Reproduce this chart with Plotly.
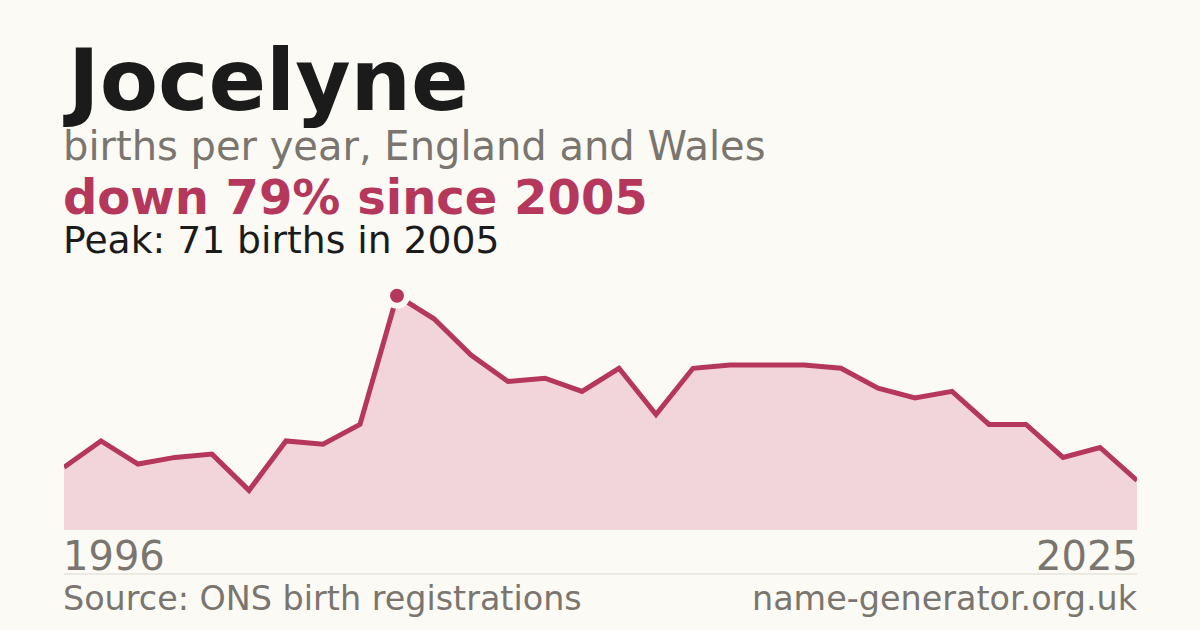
import plotly.graph_objects as go

# births per year for "Jocelyne"
years = list(range(1996, 2026))
births = [19, 27, 20, 22, 23, 12, 27, 26, 32, 71,
          64, 53, 45, 46, 42, 49, 35, 49, 50, 50,
          50, 49, 43, 40, 42, 32, 32, 22, 25, 15]

name = "Jocelyne"
subtitle = "births per year, England and Wales"
peak_year = years[births.index(max(births))]
peak_val = max(births)
change = round((births[-1] - peak_val) / peak_val * 100)
headline = f"down {abs(change)}% since {peak_year}"
peak_text = f"Peak: {peak_val} births in {peak_year}"

BG = "#fbfaf5"
RED = "#b5375b"
FILL = "#f2d5db"
GREY = "#7a756e"
INK = "#1b1b1b"
FONT = "DejaVu Sans"

W, H = 1200, 630
M_T, M_B, M_L, M_R = 266, 100, 64, 63
PLOT_H = H - M_T - M_B


def py(pix):
    # pixel row -> paper y
    return (H - M_B - pix) / PLOT_H


fig = go.Figure()
fig.add_trace(go.Scatter(
    x=years, y=births, mode="lines",
    line=dict(color=RED, width=5),
    fill="tozeroy", fillcolor=FILL,
    hoverinfo="skip",
))
fig.add_trace(go.Scatter(
    x=[peak_year], y=[peak_val], mode="markers",
    marker=dict(size=20, color=RED, line=dict(color=BG, width=6)),
    cliponaxis=False, hoverinfo="skip",
))


def label(text, x, y, size, color, bold=False, xanchor="left"):
    fig.add_annotation(
        text=f"<b>{text}</b>" if bold else text,
        x=x, y=py(y), xref="paper", yref="paper",
        xanchor=xanchor, yanchor="middle", showarrow=False,
        xshift=-3 if xanchor == "left" else 3,
        font=dict(family=FONT, size=size, color=color),
    )


label(name, 0, 80, 85, INK, bold=True)
label(subtitle, 0, 146, 40, GREY)
label(headline, 0, 197, 48, RED, bold=True)
label(peak_text, 0, 240, 37.7, INK)
label(str(years[0]), 0, 556, 40, GREY)
label(str(years[-1]), 1, 556, 40, GREY, xanchor="right")
label("Source: ONS birth registrations", 0, 598, 33.4, GREY)
label("name-generator.org.uk", 1, 598, 33.4, GREY, xanchor="right")

fig.add_shape(type="line", xref="paper", yref="paper",
              x0=0, x1=1, y0=py(574), y1=py(574),
              line=dict(color="#dcd9d2", width=1))

fig.update_layout(
    width=W, height=H,
    margin=dict(t=M_T, b=M_B, l=M_L, r=M_R),
    paper_bgcolor=BG, plot_bgcolor=BG,
    showlegend=False,
    xaxis=dict(range=[years[0], years[-1]], visible=False, fixedrange=True),
    yaxis=dict(range=[0, 80], visible=False, fixedrange=True),
)

fig.write_html("out.html", config={"displayModeBar": False},
               post_script="document.body.style.margin='0';")
